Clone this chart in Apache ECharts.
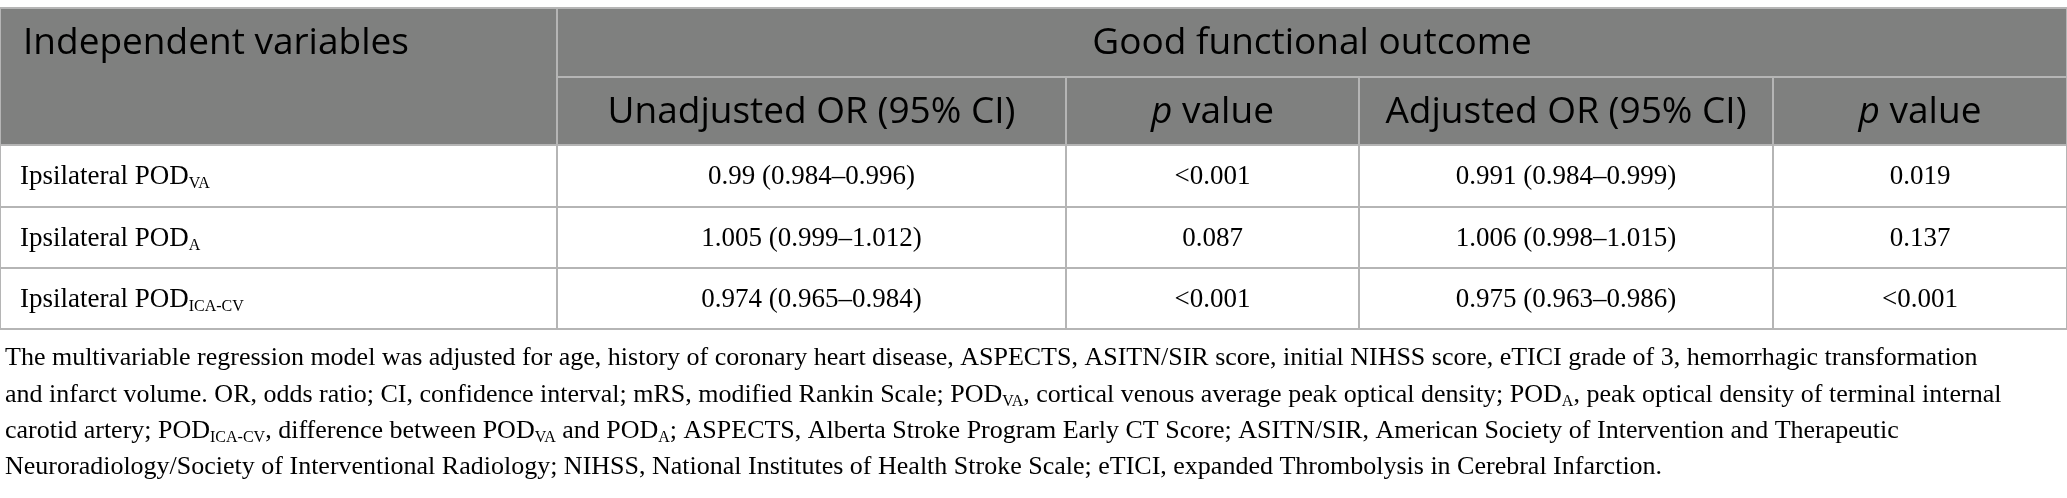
<!DOCTYPE html>
<html>
<head>
<meta charset="utf-8">
<script src="https://cdn.jsdelivr.net/npm/echarts@6/dist/echarts.min.js"></script>
<style>
html,body{margin:0;padding:0;background:#fff;}
#chart{width:2067px;height:498px;}
</style>
</head>
<body>
<div id="chart"></div>
<script>
// ---- data ----
const headerTop = ["Independent variables", "Good functional outcome"];
const headerSub = ["Unadjusted OR (95% CI)", "p value", "Adjusted OR (95% CI)", "p value"];
const variableBase = ["Ipsilateral POD", "Ipsilateral POD", "Ipsilateral POD"];
const variableSub = ["VA", "A", "ICA-CV"];
const unadjustedOR = ["0.99 (0.984–0.996)", "1.005 (0.999–1.012)", "0.974 (0.965–0.984)"];
const unadjustedP = ["<0.001", "0.087", "<0.001"];
const adjustedOR = ["0.991 (0.984–0.999)", "1.006 (0.998–1.015)", "0.975 (0.963–0.986)"];
const adjustedP = ["0.019", "0.137", "<0.001"];
const footnoteLines = [
  "{n|The multivariable regression model was adjusted for age, history of coronary heart disease, ASPECTS, ASITN/SIR score, initial NIHSS score, eTICI grade of 3, hemorrhagic transformation}",
  "{n|and infarct volume. OR, odds ratio; CI, confidence interval; mRS, modified Rankin Scale; POD}{s|VA}{n|, cortical venous average peak optical density; POD}{s|A}{n|, peak optical density of terminal internal}",
  "{n|carotid artery; POD}{s|ICA-CV}{n|, difference between POD}{s|VA}{n| and POD}{s|A}{n|; ASPECTS, Alberta Stroke Program Early CT Score; ASITN/SIR, American Society of Intervention and Therapeutic}",
  "{n|Neuroradiology/Society of Interventional Radiology; NIHSS, National Institutes of Health Stroke Scale; eTICI, expanded Thrombolysis in Cerebral Infarction.}"
];

// ---- layout ----
const colEdges = [0, 557, 1066, 1359, 1773, 2067];
const rowEdges = [8, 77, 145, 207, 268, 329];
const noteY = [358, 395, 431, 467];
const W = 2067, H = 498;
const headerFill = '#7f807f';
const lineColor = '#b5b5b5';

const sansFont = '"Open Sans", "Noto Sans", sans-serif';
const serifFont = '"Liberation Serif", "DejaVu Serif", serif';

const richBody = {
  n: {fontFamily: serifFont, fontSize: 27, color: '#1a1a1a'},
  s: {fontFamily: serifFont, fontSize: 16, color: '#1a1a1a', padding: [14, 0, 0, 0]}
};
const richHead = {
  n: {fontFamily: sansFont, fontSize: 37, color: '#ffffff'},
  i: {fontFamily: sansFont, fontSize: 37, color: '#ffffff', fontStyle: 'italic'}
};
const richNote = {
  n: {fontFamily: serifFont, fontSize: 26, color: '#1a1a1a'},
  s: {fontFamily: serifFont, fontSize: 16, color: '#1a1a1a', padding: [14, 0, 0, 0]}
};

function headText(t) {
  if (t.indexOf('p value') === 0) return '{i|p}{n| value}';
  return '{n|' + t + '}';
}

// build cell list
const cells = [];
cells.push({c0: 0, c1: 1, r0: 0, r1: 2, text: headText(headerTop[0]), rich: richHead, fill: headerFill, align: 'left', ty: [0, 1]});
cells.push({c0: 1, c1: 5, r0: 0, r1: 1, text: headText(headerTop[1]), rich: richHead, fill: headerFill, align: 'center'});
headerSub.forEach((t, j) => {
  cells.push({c0: j + 1, c1: j + 2, r0: 1, r1: 2, text: headText(t), rich: richHead, fill: headerFill, align: 'center'});
});
const bodyCols = [unadjustedOR, unadjustedP, adjustedOR, adjustedP];
variableBase.forEach((b, i) => {
  cells.push({c0: 0, c1: 1, r0: i + 2, r1: i + 3, text: '{n|' + b + '}{s|' + variableSub[i] + '}', rich: richBody, fill: '#ffffff', align: 'left'});
  bodyCols.forEach((col, j) => {
    cells.push({c0: j + 1, c1: j + 2, r0: i + 2, r1: i + 3, text: '{n|' + col[i] + '}', rich: richBody, fill: '#ffffff', align: 'center'});
  });
});

function renderCell(params, api) {
  const c = cells[params.dataIndex];
  const p0 = api.coord([colEdges[c.c0], rowEdges[c.r0]]);
  const p1 = api.coord([colEdges[c.c1], rowEdges[c.r1]]);
  let ty0 = p0[1], ty1 = p1[1];
  if (c.ty) {
    ty0 = api.coord([0, rowEdges[c.ty[0]]])[1];
    ty1 = api.coord([0, rowEdges[c.ty[1]]])[1];
  }
  const tx = c.align === 'left' ? p0[0] + (c.rich === richHead ? 23 : 20) : (p0[0] + p1[0]) / 2;
  return {
    type: 'group',
    children: [
      {type: 'rect', shape: {x: p0[0], y: p0[1], width: p1[0] - p0[0], height: p1[1] - p0[1]},
       style: {fill: c.fill, stroke: lineColor, lineWidth: 2}},
      {type: 'text', x: tx, y: (ty0 + ty1) / 2 + 1,
       style: {text: c.text, rich: c.rich, align: c.align, verticalAlign: 'middle'}}
    ]
  };
}

function renderNote(params, api) {
  const i = params.dataIndex;
  const p = api.coord([5, noteY[i]]);
  return {type: 'text', x: p[0], y: p[1],
    style: {text: footnoteLines[i], rich: richNote, align: 'left', verticalAlign: 'middle'}};
}

const chart = echarts.init(document.getElementById('chart'), null, {renderer: 'canvas'});
chart.setOption({
  animation: false,
  backgroundColor: '#ffffff',
  grid: {left: 0, right: 0, top: 0, bottom: 0},
  xAxis: {type: 'value', min: 0, max: W, show: false},
  yAxis: {type: 'value', min: 0, max: H, inverse: true, show: false},
  series: [
    {type: 'custom', coordinateSystem: 'cartesian2d', clip: false, silent: true,
     data: cells.map((c, i) => [colEdges[c.c0], rowEdges[c.r0]]), renderItem: renderCell},
    {type: 'custom', coordinateSystem: 'cartesian2d', clip: false, silent: true,
     data: footnoteLines.map((l, i) => [5, noteY[i]]), renderItem: renderNote}
  ]
});
</script>
</body>
</html>
